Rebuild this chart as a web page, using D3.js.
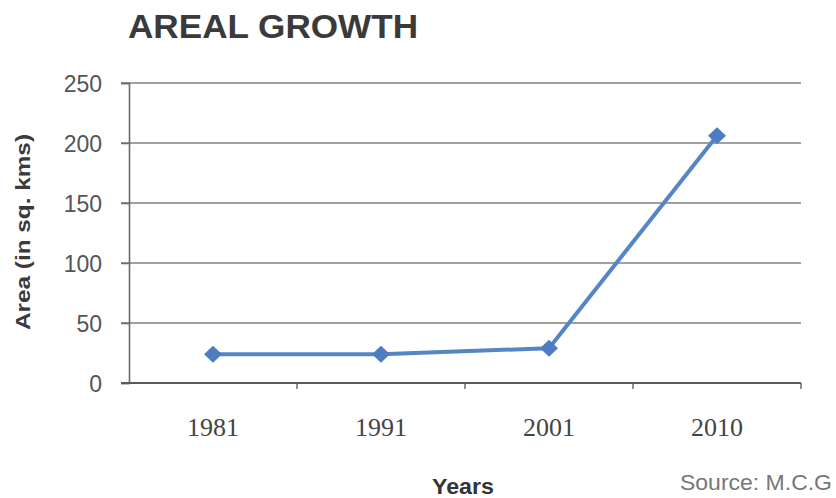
<!DOCTYPE html>
<html><head><meta charset="utf-8">
<script src="https://cdn.jsdelivr.net/npm/d3@7"></script>
<style>html,body{margin:0;padding:0;background:#fff;}svg{display:block;}</style>
</head><body>
<svg id="c" width="836" height="498"></svg>
<script>
const years = ["1981", "1991", "2001", "2010"];
const areaValues = [24, 24, 29, 206];
const yTicks = [0, 50, 100, 150, 200, 250];
const titleText = "AREAL GROWTH";
const yLabelText = "Area (in sq. kms)";
const xLabelText = "Years";
const sourceText = "Source: M.C.G";

(function () {
const svg = d3.select("#c");
const pLeft = 129, pRight = 801, pTop = 83, pBottom = 383;
const x = d3.scaleBand().domain(years).range([pLeft, pRight]).padding(0);
const y = d3.scaleLinear().domain([0, 250]).range([pBottom, pTop]);

// gridlines
svg.append("g").selectAll("line").data(yTicks.filter(d => d > 0)).join("line")
  .attr("x1", pLeft - 8).attr("x2", pRight)
  .attr("y1", d => y(d)).attr("y2", d => y(d))
  .attr("stroke", "#808080").attr("stroke-width", 1.5);

// y axis
const ya = svg.append("g").attr("transform", `translate(${pLeft},0)`)
  .call(d3.axisLeft(y).tickValues(yTicks).tickSize(8).tickPadding(19));
ya.select(".domain").attr("stroke", "#6a6a6a").attr("stroke-width", 1.6);
ya.selectAll(".tick line").attr("stroke", "#6a6a6a").attr("stroke-width", 1.5);
ya.selectAll(".tick text").attr("font-family", "Liberation Sans, Arial, sans-serif")
  .attr("font-size", 23).attr("fill", "#555").attr("dy", "0.35em");

// x axis
const xa = svg.append("g").attr("transform", `translate(0,${pBottom})`)
  .call(d3.axisBottom(x).tickSize(0).tickPadding(0));
xa.select(".domain").remove();
xa.append("line").attr("x1", pLeft - 8).attr("x2", pRight).attr("y1", 0).attr("y2", 0)
  .attr("stroke", "#5a5a5a").attr("stroke-width", 2);
xa.selectAll(".bnd").data(years).join("line").attr("class", "bnd")
  .attr("x1", d => x(d) + x.bandwidth()).attr("x2", d => x(d) + x.bandwidth())
  .attr("y1", 0).attr("y2", 6).attr("stroke", "#6a6a6a").attr("stroke-width", 1.5);
xa.selectAll(".tick text").attr("font-family", "Liberation Serif, Times New Roman, serif")
  .attr("font-size", 26).attr("fill", "#444").attr("y", 53).attr("dy", 0);

// line
const cx = d => x(d) + x.bandwidth() / 2;
const pts = years.map((yr, i) => [cx(yr), y(areaValues[i])]);
svg.append("path").datum(pts).attr("d", d3.line())
  .attr("fill", "none").attr("stroke", "#5585c4").attr("stroke-width", 4)
  .attr("stroke-linejoin", "round");
svg.append("g").selectAll("path").data(pts).join("path")
  .attr("d", d => `M${d[0]},${d[1]-8.5}L${d[0]+9},${d[1]}L${d[0]},${d[1]+8.5}L${d[0]-9},${d[1]}Z`)
  .attr("fill", "#4d7dc0");

// title
svg.append("text").attr("x", 128).attr("y", 38).text(titleText)
  .attr("font-family", "Liberation Sans, Arial, sans-serif").attr("font-weight", "bold")
  .attr("font-size", 33).attr("fill", "#3a3a3a").attr("textLength", 290).attr("lengthAdjust", "spacingAndGlyphs");

// y label
svg.append("text").attr("transform", "translate(30,232) rotate(-90)").attr("text-anchor", "middle")
  .text(yLabelText).attr("font-family", "Liberation Sans, Arial, sans-serif").attr("font-weight", "bold")
  .attr("font-size", 21).attr("fill", "#3a3a3a").attr("textLength", 196).attr("lengthAdjust", "spacingAndGlyphs");

// x label
svg.append("text").attr("x", 463).attr("y", 494).attr("text-anchor", "middle").text(xLabelText)
  .attr("font-family", "Liberation Sans, Arial, sans-serif").attr("font-weight", "bold")
  .attr("font-size", 22).attr("fill", "#333").attr("textLength", 62).attr("lengthAdjust", "spacingAndGlyphs");

// source
svg.append("text").attr("x", 680).attr("y", 490).text(sourceText)
  .attr("font-family", "Liberation Sans, Arial, sans-serif")
  .attr("font-size", 22).attr("fill", "#777").attr("textLength", 152).attr("lengthAdjust", "spacingAndGlyphs");
})();
</script>
</body></html>
